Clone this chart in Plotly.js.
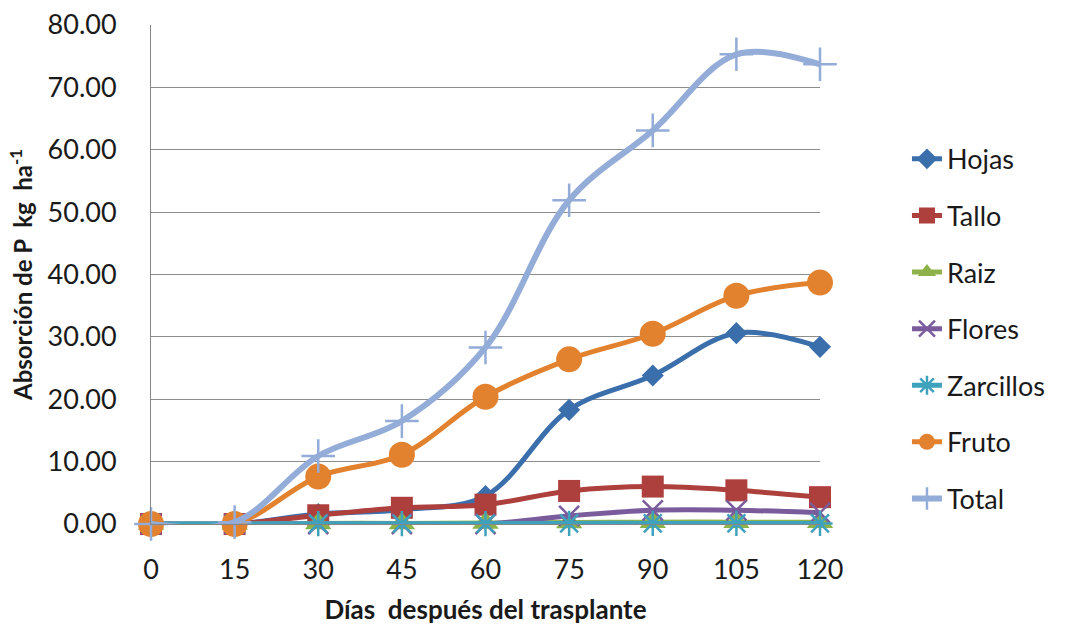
<!DOCTYPE html>
<html>
<head>
<meta charset="utf-8">
<script src="https://cdn.plot.ly/plotly-3.0.1.min.js"></script>
<style>
  html, body { margin: 0; padding: 0; background: #ffffff; }
  #chart { width: 1069px; height: 628px; }
</style>
</head>
<body>
<div id="chart"></div>
<script>
// Días después del trasplante
const dias = [0, 15, 30, 45, 60, 75, 90, 105, 120];
const diasEtiquetas = ['0', '15', '30', '45', '60', '75', '90', '105', '120'];

// Absorción de P (kg ha-1) por órgano
const hojas     = [0, 0, 1.6, 2.3, 4.5, 18.3, 23.8, 30.6, 28.4];
const tallo     = [0, 0, 1.4, 2.6, 3.1, 5.3, 6.0, 5.4, 4.3];
const raiz      = [0, 0, 0.1, 0.1, 0.15, 0.25, 0.3, 0.3, 0.3];
const flores    = [0, 0, 0, 0, 0, 1.3, 2.2, 2.2, 1.8];
const zarcillos = [0, 0, 0.05, 0.05, 0.05, 0.1, 0.1, 0.1, 0.1];
const fruto     = [0, 0, 7.6, 11.1, 20.4, 26.4, 30.5, 36.6, 38.7];
const total     = [0, 0.3, 10.9, 16.5, 28.3, 51.9, 63.1, 75.3, 73.7];

const yTicks = [0, 10, 20, 30, 40, 50, 60, 70, 80];

const FONT = 'Lato, "Open Sans", "DejaVu Sans", sans-serif';

function serie(nombre, valores, color, simbolo, tam, abierto) {
  const marker = { symbol: simbolo, size: tam, color: color };
  if (abierto) marker.line = { color: color, width: 2.5 };
  return {
    type: 'scatter',
    mode: 'lines+markers',
    name: nombre,
    legendgroup: nombre,
    x: dias,
    y: valores,
    cliponaxis: false,
    line: { color: color, width: 5, shape: 'spline', smoothing: 1 },
    marker: marker
  };
}

const data = [
  serie('Hojas', hojas, '#3b6fac', 'diamond', 17, false),
  serie('Tallo', tallo, '#ad403d', 'square', 22, false),
  serie('Raiz', raiz, '#8db24a', 'triangle-up', 23, false),
  serie('Flores', flores, '#7a5c9d', 'x-thin-open', 20, true),
  serie('Zarcillos', zarcillos, '#3fa2bd', 'asterisk-open', 21, true),
  serie('Fruto', fruto, '#e2822f', 'circle', 26, false),
  serie('Total', total, '#93acd8', 'cross-thin-open', 24, true)
];
data[6].line.width = 6;

const layout = {
  width: 1069,
  height: 628,
  margin: { l: 151, r: 249, t: 25, b: 104 },
  paper_bgcolor: '#ffffff',
  plot_bgcolor: '#ffffff',
  font: { family: FONT, size: 28, color: '#1a1a1a' },
  showlegend: true,
  legend: {
    x: 1.13, xanchor: 'left',
    y: 0.78, yanchor: 'top',
    font: { family: FONT, size: 27, color: '#1a1a1a' },
    tracegroupgap: 18.5,
    bgcolor: 'rgba(0,0,0,0)'
  },
  xaxis: {
    range: [0, 120],
    tickvals: dias,
    ticktext: diasEtiquetas,
    showgrid: false,
    zeroline: false,
    showline: true,
    linecolor: '#868686',
    linewidth: 1,
    ticks: '',
    ticklabelstandoff: 22,
    tickfont: { family: FONT, size: 27, color: '#1a1a1a' },
    title: {
      text: 'Días  después del trasplante',
      font: { family: FONT, size: 26, color: '#1a1a1a', weight: 'bold' },
      standoff: 16
    },
    automargin: false
  },
  yaxis: {
    range: [0, 80],
    tickvals: yTicks,
    tickformat: '.2f',
    showgrid: true,
    gridcolor: '#8c8c8c',
    gridwidth: 1,
    zeroline: false,
    showline: true,
    linecolor: '#868686',
    linewidth: 1,
    ticks: '',
    ticklabelstandoff: 28,
    tickfont: { family: FONT, size: 27, color: '#1a1a1a' },
    title: {
      text: 'Absorción de P  kg  ha<sup>-1</sup>',
      font: { family: FONT, size: 24, color: '#1a1a1a', weight: 'bold' },
      standoff: 8
    },
    automargin: false
  }
};

Plotly.newPlot('chart', data, layout, { displayModeBar: false, staticPlot: true });
</script>
</body>
</html>
